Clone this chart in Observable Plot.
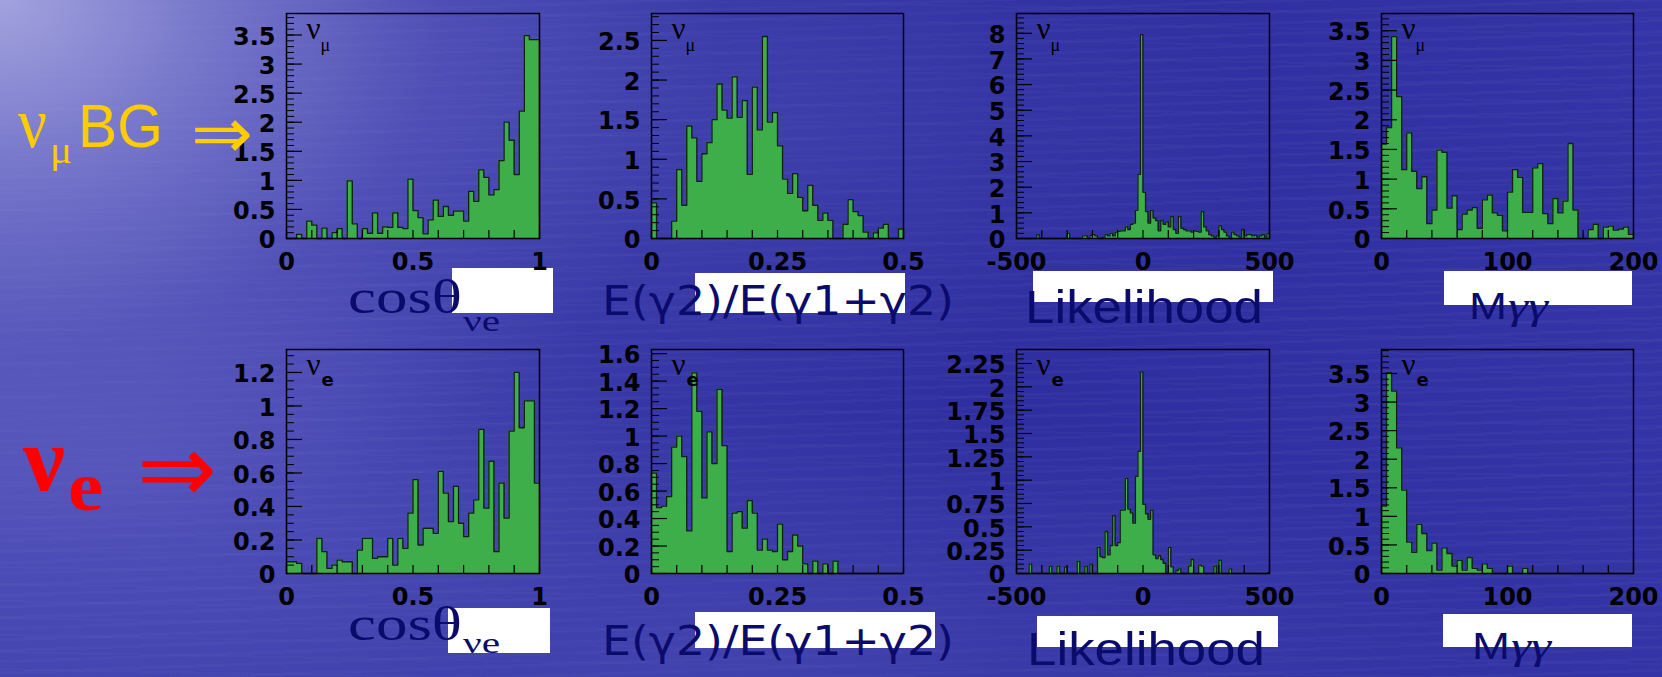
<!DOCTYPE html>
<html><head><meta charset="utf-8">
<script src="https://cdn.jsdelivr.net/npm/d3@7"></script>
<script src="https://cdn.jsdelivr.net/npm/@observablehq/plot@0.6"></script>
<style>
html,body{margin:0;padding:0;background:#3434a4;}
#stage{position:relative;width:1662px;height:677px;overflow:hidden;
background:
 radial-gradient(ellipse 720px 560px at 0px 0px, rgba(170,170,226,0.92) 0%, rgba(140,140,214,0.7) 30%, rgba(110,110,200,0.35) 62%, rgba(90,90,190,0) 100%),
 radial-gradient(ellipse 560px 260px at 120px 470px, rgba(105,105,198,0.45), rgba(105,105,198,0) 100%),
 radial-gradient(ellipse 760px 260px at 760px 660px, rgba(95,95,196,0.35), rgba(95,95,196,0) 100%),
 radial-gradient(ellipse 520px 300px at 760px 120px, rgba(90,90,190,0.30), rgba(90,90,190,0) 100%),
 repeating-linear-gradient(178deg, rgba(255,255,255,0.025) 0px, rgba(255,255,255,0.025) 3px, rgba(0,0,0,0) 3px, rgba(0,0,0,0) 11px),
 repeating-linear-gradient(181deg, rgba(255,255,255,0.02) 0px, rgba(255,255,255,0.02) 2px, rgba(0,0,0,0) 2px, rgba(0,0,0,0) 17px),
 linear-gradient(90deg, #4242b0 0%, #3838a8 30%, #2e2ea0 60%, #3434a6 100%);}
</style></head><body><div id="stage"></div><script>
// ---------------- data (bin contents, 50 or 100 equal bins) ----------------
const cosMuBG = [0,0,0.07,0,0.3,0.23,0,0.18,0,0.1, 0.17,0,0.99,0.25,0,0.17,0.09,0.44,0.09,0.2,
  0.19,0.44,0.19,0.17,1.02,0.48,0.36,0.08,0.32,0.66, 0.38,0.55,0.4,0.47,0.47,0.3,0.81,0.64,1.18,1.05,
  0.75,0.84,1.34,2.0,1.69,1.1,2.19,3.49,3.42,3.42];
const ratioMuBG = [0.45,0,0,0,0.22,0.87,0.42,1.42,1.27,0.72, 1.07,1.21,1.5,1.95,1.62,1.52,2.04,1.53,1.74,0.81,
  1.91,1.37,2.55,1.47,1.59,1.17,0.75,0.57,0.82,0.52, 0.35,0.67,0.42,0.23,0.32,0.23,0,0,0.18,0.49,
  0.34,0.29,0.08,0,0.07,0.13,0.18,0,0,0.12];
const likeMuBG = [0,0,0,0,0,0,0,0,0.15,0, 0,0,0,0,0,0,0,0,0,0,
  0.2,0,0,0,0,0,0.1,0.1,0,0.12, 0.15,0.1,0,0,0.05,0.15,0.1,0.2,0.1,0.25,
  0.28,0.3,0.3,0.45,0.35,0.55,0.6,1.1,2.5,7.95, 1.8,1.05,0.6,1.1,0.8,0.7,0.3,0.7,0.55,0.65,
  0.45,0.85,0.35,0.2,0.85,0.4,0.35,0.3,0.3,0.25, 0.3,0.28,0.25,1.05,0.45,0.3,0.15,0.1,0.05,0.1,
  0.5,0.35,0.25,0.1,0,0.25,0.15,0.1,0.05,0.35, 0.1,0.15,0.15,0.1,0.12,0.05,0.1,0.15,0.05,0.2];
const mggMuBG = [1.59,1.87,3.4,2.39,1.16,1.78,1.13,0.84,1.04,0.25, 0.48,1.49,1.45,0.51,0.72,0.15,0.41,0.48,0.52,0.17,
  0.65,0.73,0.43,0.39,0.13,0.78,1.16,1.03,0.44,0.44, 1.19,1.26,0.42,0.25,0.67,0.43,0.63,1.6,0.48,0,
  0,0.15,0.24,0,0.19,0.21,0.14,0.16,0.19,0.07];
const cosE = [0.07,0.07,0.06,0,0,0,0.21,0.13,0.03,0.05, 0.08,0.07,0.07,0,0.14,0.21,0.21,0.09,0.1,0.1,
  0.21,0.05,0.21,0.15,0.36,0.56,0.17,0.27,0.27,0.24, 0.61,0.48,0.31,0.52,0.3,0.22,0.36,0.44,0.86,0.39,
  0.67,0.13,0.54,0.33,0.85,1.2,0.87,1.03,1.03,0.54];
const ratioE = [0.73,0.48,0.49,0.56,0.92,1.0,0.85,0.31,1.46,1.18, 0.55,1.03,0.8,1.34,0.93,0.16,0.44,0.45,0.33,0.53,
  0.44,0.17,0.25,0.17,0.16,0.36,0.1,0.16,0.28,0.2, 0.07,0,0.09,0,0.07,0,0.09,0,0,0,
  0,0,0,0,0,0,0,0,0,0];
const likeE = [0,0,0,0,0,0.1,0,0,0,0, 0,0,0,0.08,0,0,0.08,0,0,0.07,
  0,0,0,0,0.13,0,0,0.08,0,0.1, 0,0,0.28,0.18,0.17,0.45,0.2,0.3,0.62,0.3,
  0.33,0.68,0.68,1.02,0.69,0.65,0.54,1.04,1.31,2.16, 0.74,0.64,0.58,0.68,0.2,0.16,0.19,0.15,0.11,0,
  0.28,0.07,0,0.03,0.05,0,0,0,0.08,0.15, 0,0,0.09,0.08,0,0,0,0,0.08,0,
  0.14,0,0,0,0.05,0,0,0,0,0, 0,0,0,0,0,0,0,0,0,0.01];
const mggE = [1.18,3.52,3.19,2.2,1.46,0.55,0.37,0.86,0.7,0.4, 0.53,0.06,0.45,0.35,0.13,0.23,0.06,0.28,0.09,0.06,
  0.17,0.09,0,0,0,0.13,0,0,0.09,0, 0,0,0,0,0,0,0,0,0,0, 0,0,0,0,0,0,0,0,0,0];

// x ranges
const cosRange = [0, 1], ratioRange = [0, 0.5], likeRange = [-500, 500], mggRange = [0, 200];
// tick labels
const cosXLabels = [0, 0.5, 1], ratioXLabels = [0, 0.25, 0.5], likeXLabels = [-500, 0, 500], mggXLabels = [0, 100, 200];
const yLab35 = [0, 0.5, 1, 1.5, 2, 2.5, 3, 3.5];
const yLab25 = [0, 0.5, 1, 1.5, 2, 2.5];
const yLab8 = [0, 1, 2, 3, 4, 5, 6, 7, 8];
const yLab12 = [0, 0.2, 0.4, 0.6, 0.8, 1, 1.2];
const yLab16 = [0, 0.2, 0.4, 0.6, 0.8, 1, 1.2, 1.4, 1.6];
const yLab225 = [0, 0.25, 0.5, 0.75, 1, 1.25, 1.5, 1.75, 2, 2.25];
// texts
const sampleMu = ["ν", "μ"], sampleE = ["ν", "e"];
const xTitles = ["cosθ", "E(γ2)/E(γ1+γ2)", "Likelihood", "M", "γγ"];
const cosSub = "νe";
const rowLabels = ["ν", "μ", "BG", "⇒", "ν", "e", "⇒"];

// ---------------- layout ----------------
const cols = [[286, 539], [651, 903], [1016, 1269], [1381, 1633]];
const rows = [[13, 238], [349, 573]];
const panels = [
  {v: cosMuBG, dom: cosRange, ymax: 3.87, yl: yLab35, ym: 0.1, xl: cosXLabels, xm: 0.1, c: 0, r: 0, s: sampleMu},
  {v: ratioMuBG, dom: ratioRange, ymax: 2.84, yl: yLab25, ym: 0.1, xl: ratioXLabels, xm: 0.05, c: 1, r: 0, s: sampleMu},
  {v: likeMuBG, dom: likeRange, ymax: 8.77, yl: yLab8, ym: 0.2, xl: likeXLabels, xm: 100, c: 2, r: 0, s: sampleMu},
  {v: mggMuBG, dom: mggRange, ymax: 3.79, yl: yLab35, ym: 0.1, xl: mggXLabels, xm: 20, c: 3, r: 0, s: sampleMu},
  {v: cosE, dom: cosRange, ymax: 1.337, yl: yLab12, ym: 0.05, xl: cosXLabels, xm: 0.1, c: 0, r: 1, s: sampleE},
  {v: ratioE, dom: ratioRange, ymax: 1.63, yl: yLab16, ym: 0.05, xl: ratioXLabels, xm: 0.05, c: 1, r: 1, s: sampleE},
  {v: likeE, dom: likeRange, ymax: 2.4, yl: yLab225, ym: 0.05, xl: likeXLabels, xm: 100, c: 2, r: 1, s: sampleE},
  {v: mggE, dom: mggRange, ymax: 3.92, yl: yLab35, ym: 0.1, xl: mggXLabels, xm: 20, c: 3, r: 1, s: sampleE}
];
const whiteBoxes = [[452,268,553,313],[695,273,905,313],[1033,271,1273,302],[1444,271,1632,305],
                    [448,608,550,653],[695,612,935,648],[1037,616,1278,647],[1443,614,1632,647]];

const stage = document.getElementById("stage");
const under = d3.select(stage).append("svg").attr("width", 1662).attr("height", 677)
  .style("position", "absolute").style("left", "0px").style("top", "0px");
whiteBoxes.forEach(([a, b, c, d]) => under.append("rect").attr("x", a).attr("y", b)
  .attr("width", c - a).attr("height", d - b).attr("fill", "#ffffff"));

const ml = 80, mr = 40, mt = 10, mb = 45;
const SANS = "'Liberation Sans', Arial, Helvetica, sans-serif";
const SERIF = "'Liberation Serif', 'Times New Roman', serif";
const DV = "'DejaVu Sans', sans-serif";

function steps(lo, hi, st) {
  const n = Math.floor((hi - lo) / st + 1e-6);
  return d3.range(0, n + 1).map(i => +(lo + i * st).toFixed(6));
}

panels.forEach(p => {
  const [L, R] = cols[p.c], [T, B] = rows[p.r];
  const fw = R - L, fh = B - T;
  const n = p.v.length, w = (p.dom[1] - p.dom[0]) / n;
  const outline = [{x: p.dom[0], y: 0}]
    .concat(p.v.map((y, i) => ({x: p.dom[0] + i * w, y})))
    .concat([{x: p.dom[1], y: p.v[n - 1]}, {x: p.dom[1], y: 0}]);
  const yMinor = steps(0, p.ymax, p.ym);
  const xMinor = steps(p.dom[0], p.dom[1], p.xm);
  const isE = p.r === 1;
  const svg = Plot.plot({
    width: fw + ml + mr, height: fh + mt + mb,
    marginLeft: ml, marginRight: mr, marginTop: mt, marginBottom: mb,
    x: {domain: p.dom, label: null, axis: null},
    y: {domain: [0, p.ymax], label: null, axis: null},
    style: {background: "transparent", overflow: "visible", color: "black"},
    marks: [
      Plot.areaY(outline, {x: "x", y: "y", curve: "step-after", fill: "#3dae4a"}),
      Plot.line(outline, {x: "x", y: "y", curve: "step-after", stroke: "#10230f", strokeWidth: 1.3}),
      Plot.tickY(yMinor, {y: d => d, insetRight: fw - 8, stroke: "black", strokeWidth: 1}),
      Plot.tickY(p.yl, {y: d => d, insetRight: fw - 16, stroke: "black", strokeWidth: 1.2}),
      Plot.tickX(xMinor, {x: d => d, insetTop: fh - 8, stroke: "black", strokeWidth: 1.2}),
      Plot.frame({stroke: "black", strokeWidth: 1.5}),
      // y tick labels
      Plot.text(p.yl, {y: d => d, text: d => String(d), frameAnchor: "left", textAnchor: "end", dx: -11, dy: 2,
        fontSize: 24, fontWeight: "bold", fontFamily: DV, fill: "black"}),
      // x tick labels
      Plot.text(p.xl, {x: d => d, text: d => String(d), frameAnchor: "bottom", lineAnchor: "top", dy: 14,
        fontSize: 24, fontWeight: "bold", fontFamily: DV, fill: "black"}),
      Plot.text([p.s[0]], {frameAnchor: "top-left", textAnchor: "start", lineAnchor: "bottom", dx: 20, dy: 25,
        fontSize: 31, fontFamily: SERIF, fontWeight: "normal", fill: "black"}),
      Plot.text([p.s[1]], {frameAnchor: "top-left", textAnchor: "start", lineAnchor: "bottom", dx: isE ? 35 : 34, dy: isE ? 36 : 37,
        fontSize: 18, fontFamily: isE ? DV : SERIF, fontWeight: isE ? "bold" : "normal", fill: "black"})
    ]
  });
  svg.style.position = "absolute";
  svg.style.left = (L - ml) + "px";
  svg.style.top = (T - mt) + "px";
  svg.style.maxWidth = "none";
  stage.appendChild(svg);
});

// ---------------- overlay texts ----------------
const over = d3.select(stage).append("svg").attr("width", 1662).attr("height", 677)
  .style("position", "absolute").style("left", "0px").style("top", "0px");
function txt(s, x, y, size, family, opts = {}) {
  const t = over.append("text").attr("x", x).attr("y", y).attr("font-size", size)
    .attr("font-family", family).attr("fill", opts.fill || "#0b0b6c").text(s);
  if (opts.weight) t.attr("font-weight", opts.weight);
  if (opts.italic) t.attr("font-style", "italic");
  if (opts.len) t.attr("textLength", opts.len).attr("lengthAdjust", "spacingAndGlyphs");
  return t;
}
[[313, 331], [640, 653]].forEach(([yb, ys]) => {
  txt(xTitles[0], 348, yb, 48, SERIF, {len: 114});
  txt(cosSub, 463, ys, 30, SERIF, {len: 37});
});
[315, 655].forEach(yb => txt(xTitles[1], 602, yb, 40, DV, {len: 352}));
[[1025, 323], [1027, 665]].forEach(([x, yb]) => txt(xTitles[2], x, yb, 46, SANS, {len: 238}));
[[1469, 319], [1472, 659]].forEach(([x, yb]) => {
  txt(xTitles[3], x, yb, 37, SANS, {len: 38});
  txt(xTitles[4], x + 39, yb, 37, SERIF, {len: 40, italic: true});
});
// row annotations
const GOLD = "#ffcc00", RED = "#ff0000";
txt(rowLabels[0], 18, 147, 72, SERIF, {fill: GOLD, len: 29});
txt(rowLabels[1], 50, 163, 38, SERIF, {fill: GOLD, len: 22});
txt(rowLabels[2], 78, 147, 62, SANS, {fill: GOLD, len: 85});
txt(rowLabels[3], 191, 158, 72, DV, {fill: GOLD, len: 62});
txt(rowLabels[4], 23, 490, 92, SERIF, {fill: RED, weight: "bold", len: 42});
txt(rowLabels[5], 68, 510, 70, SERIF, {fill: RED, weight: "bold", len: 35});
txt(rowLabels[6], 137, 502, 96, DV, {fill: RED, len: 80});
</script></body></html>
